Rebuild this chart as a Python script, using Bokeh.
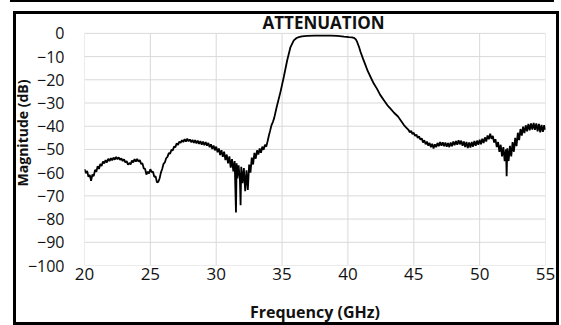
from bokeh.plotting import figure
from bokeh.models import Range1d, FixedTicker, Label
from bokeh.embed import file_html
from bokeh.resources import INLINE

# ---- data ----
# stopband below the filter (20-28 GHz)
freq_a = [20.0, 20.1, 20.2, 20.3, 20.4, 20.5, 20.6, 20.7, 20.8, 20.9,
          21.0, 21.1, 21.2, 21.3, 21.4, 21.5, 21.6, 21.7, 21.8, 21.9,
          22.0, 22.1, 22.2, 22.3, 22.4, 22.5, 22.6, 22.7, 22.8, 22.9,
          23.0, 23.1, 23.2, 23.3, 23.4, 23.5, 23.6, 23.7, 23.8, 23.9,
          24.0, 24.1, 24.2, 24.3, 24.4, 24.5, 24.6, 24.7, 24.8, 24.9,
          25.0, 25.1, 25.2, 25.3, 25.4, 25.5, 25.6, 25.7, 25.8, 25.9,
          26.0, 26.1, 26.2, 26.3, 26.4, 26.5, 26.6, 26.7, 26.8, 26.9,
          27.0, 27.1, 27.2, 27.3, 27.4, 27.5, 27.6, 27.7, 27.8, 27.9, 28.0]
mag_a = [-58.5, -60.2, -59.3, -61.8, -61.0, -63.5, -60.8, -61.5, -58.8, -59.6,
         -57.2, -58.4, -56.3, -57.1, -55.2, -56.0, -54.6, -55.6, -54.0, -55.0,
         -53.8, -54.7, -53.5, -54.4, -53.2, -54.2, -53.4, -54.5, -53.9, -55.0,
         -54.3, -55.6, -55.0, -56.6, -55.8, -56.5, -54.8, -55.6, -54.2, -55.2,
         -54.1, -55.3, -54.6, -56.2, -56.0, -58.2, -58.4, -60.8, -59.6, -60.4,
         -58.5, -59.8, -59.6, -61.8, -61.6, -64.2, -64.0, -62.5, -60.0, -58.4,
         -56.2, -55.6, -53.8, -53.2, -51.6, -51.8, -50.2, -50.4, -48.8, -49.0,
         -47.4, -48.0, -46.6, -47.2, -46.0, -46.8, -45.6, -46.6, -45.4, -46.5, -45.7]

# noisy stopband up to the lower filter edge (28-34.3 GHz)
freq_b = [28.1, 28.2, 28.3, 28.4, 28.5, 28.6, 28.7, 28.8, 28.9, 29.0,
          29.1, 29.2, 29.3, 29.4, 29.5, 29.6, 29.7, 29.8, 29.9, 30.0,
          30.1, 30.2, 30.3, 30.4, 30.5, 30.6, 30.7, 30.8, 30.9, 31.0,
          31.1, 31.2, 31.3, 31.4, 31.5, 31.55, 31.6, 31.7, 31.8, 31.85,
          31.9, 32.0, 32.1, 32.2, 32.3, 32.4, 32.5, 32.6, 32.7, 32.8,
          32.9, 33.0, 33.1, 33.2, 33.3, 33.4, 33.5, 33.6, 33.7, 33.8,
          33.9, 34.0, 34.1, 34.2, 34.3]
mag_b = [-46.9, -45.9, -47.2, -46.0, -47.4, -46.2, -47.6, -46.4, -47.9, -46.6,
         -48.2, -46.8, -48.4, -47.2, -49.0, -47.8, -49.8, -48.3, -50.4, -48.8,
         -51.2, -49.6, -52.4, -50.3, -53.2, -51.0, -54.6, -52.2, -56.0, -53.0,
         -57.8, -54.2, -59.5, -55.0, -77.2, -56.0, -62.5, -56.8, -63.5, -74.0,
         -57.5, -64.5, -58.0, -68.0, -59.0, -67.5, -56.5, -60.0, -53.5, -56.5,
         -51.5, -54.0, -50.4, -52.2, -49.6, -51.4, -48.8, -50.2, -48.0, -48.8,
         -46.5, -44.0, -41.8, -39.5, -38.2]

# passband and skirts (34.4-44.5 GHz)
freq_c = [34.4, 34.6, 34.88, 35.13, 35.39, 35.64, 35.89, 36.1, 36.27, 36.5,
          36.9, 37.5, 38.0, 38.7, 39.2, 39.7, 40.07, 40.3, 40.45, 40.6,
          40.7, 40.85, 40.96, 41.15, 41.34, 41.5, 41.72, 41.95, 42.2, 42.45,
          42.73, 43.0, 43.23, 43.5, 43.8, 44.0, 44.25, 44.5]
mag_c = [-36.5, -31.5, -25.2, -18.8, -11.6, -5.9, -3.0, -2.0, -1.6, -1.3,
         -1.1, -1.0, -1.0, -1.0, -1.1, -1.4, -1.6, -1.7, -1.9, -2.6,
         -3.7, -6.0, -8.0, -11.0, -13.8, -16.2, -18.8, -21.5, -23.8, -26.5,
         -28.8, -31.0, -32.4, -34.2, -35.8, -37.4, -39.5, -41.0]

# upper stopband (44.6-55 GHz)
freq_d = [44.6, 44.7, 44.8, 44.9, 45.0, 45.1, 45.2, 45.3, 45.4, 45.5,
          45.6, 45.7, 45.8, 45.9, 46.0, 46.1, 46.2, 46.3, 46.4, 46.5,
          46.6, 46.7, 46.8, 46.9, 47.0, 47.1, 47.2, 47.3, 47.4, 47.5,
          47.6, 47.7, 47.8, 47.9, 48.0, 48.1, 48.2, 48.3, 48.4, 48.5,
          48.6, 48.7, 48.8, 48.9, 49.0, 49.1, 49.2, 49.3, 49.4, 49.5,
          49.6, 49.7, 49.8, 49.9, 50.0, 50.1, 50.2, 50.3, 50.4, 50.5,
          50.6, 50.7, 50.8, 50.9, 51.0, 51.1, 51.2, 51.3, 51.4, 51.5,
          51.6, 51.7, 51.8, 51.9, 52.0, 52.05, 52.1, 52.2, 52.3, 52.4,
          52.5, 52.6, 52.7, 52.8, 52.9, 53.0, 53.1, 53.2, 53.3, 53.4,
          53.5, 53.6, 53.7, 53.8, 53.9, 54.0, 54.1, 54.2, 54.3, 54.4,
          54.5, 54.6, 54.7, 54.8, 54.9, 55.0]
mag_d = [-41.6, -42.6, -42.0, -43.4, -42.8, -44.2, -43.6, -45.0, -44.4, -45.8,
         -45.2, -47.0, -46.0, -47.8, -46.6, -48.4, -47.2, -49.0, -47.6, -49.6,
         -47.8, -49.0, -47.2, -48.6, -46.8, -48.4, -46.9, -48.6, -47.0, -48.8,
         -47.2, -49.0, -47.0, -48.6, -46.6, -48.2, -46.4, -48.0, -46.0, -47.8,
         -46.2, -48.4, -46.6, -49.0, -46.8, -49.4, -47.0, -49.2, -46.8, -48.8,
         -46.4, -48.4, -46.2, -48.0, -45.8, -47.8, -45.4, -47.2, -44.8, -46.6,
         -44.0, -45.6, -43.2, -45.4, -44.2, -47.0, -45.6, -49.0, -46.8, -51.0,
         -48.0, -53.0, -49.0, -55.0, -50.0, -61.5, -49.5, -55.0, -48.5, -53.0,
         -46.8, -51.0, -45.0, -48.6, -42.8, -46.0, -41.2, -44.0, -40.2, -43.0,
         -39.6, -42.2, -39.0, -41.8, -38.8, -41.4, -38.6, -41.6, -38.8, -42.2,
         -39.0, -42.6, -39.4, -42.4, -39.6, -41.6]

freq = freq_a + freq_b + freq_c + freq_d
mag = mag_a + mag_b + mag_c + mag_d

x_ticks = [20, 25, 30, 35, 40, 45, 50, 55]
y_ticks = [-100, -90, -80, -70, -60, -50, -40, -30, -20, -10, 0]
title_text = "ATTENUATION"
x_label = "Frequency (GHz)"
y_label = "Magnitude (dB)"

FONT = "Open Sans"
GRID = "#d9d9d9"

x_lo, x_hi = min(x_ticks), max(x_ticks)
y_lo, y_hi = min(y_ticks), max(y_ticks)

# the frame reaches the top of the page so the title above 0 dB is not clipped
p = figure(width=561, height=325, output_backend="svg", toolbar_location=None,
           x_range=Range1d(x_lo, x_hi), y_range=Range1d(y_lo, 14.16),
           min_border_left=84, min_border_right=16,
           min_border_top=0, min_border_bottom=59)

p.background_fill_color = None
p.border_fill_color = None
p.outline_line_color = None
p.grid.visible = False

# grid lines limited to the 0..-100 dB area
p.segment(x0=x_ticks, y0=[y_lo] * len(x_ticks), x1=x_ticks, y1=[y_hi] * len(x_ticks),
          line_color=GRID, line_width=1)
p.segment(x0=[x_lo] * len(y_ticks), y0=y_ticks, x1=[x_hi] * len(y_ticks), y1=y_ticks,
          line_color=GRID, line_width=1)

p.line(freq, mag, line_color="black", line_width=1.8)

p.xaxis.ticker = FixedTicker(ticks=x_ticks)
p.yaxis.ticker = FixedTicker(ticks=y_ticks)
p.yaxis.bounds = (y_lo, y_hi)

for ax in (p.xaxis[0], p.yaxis[0]):
    ax.axis_line_color = None
    ax.major_tick_line_color = None
    ax.minor_tick_line_color = None
    ax.major_tick_in = 0
    ax.major_tick_out = 0
    ax.minor_tick_in = 0
    ax.minor_tick_out = 0
    ax.major_label_text_font = FONT
    ax.major_label_text_color = "#111111"
    ax.axis_label_text_font = FONT
    ax.axis_label_text_font_style = "bold"
    ax.axis_label_text_color = "#111111"

p.xaxis.axis_label = x_label
p.xaxis.major_label_text_font_size = "17px"
p.xaxis.major_label_standoff = 2
p.xaxis.axis_label_text_font_size = "16px"
p.xaxis.axis_label_standoff = 18

p.yaxis.axis_label = y_label
p.yaxis.major_label_text_font_size = "16px"
p.yaxis.major_label_standoff = 20
p.yaxis.axis_label_standoff = -7
p.yaxis.axis_label_text_font_size = "14px"

title = Label(x=38.15, y=4.5, text=title_text, text_font=FONT,
              text_font_size="17px", text_font_style="bold",
              text_align="center", text_baseline="alphabetic",
              text_color="#111111")
p.add_layout(title)

# outer 3px box and the thin rule above it, painted as page background
K = "linear-gradient(#000,#000)"
p.styles = {
    "background": ", ".join([
        f"{K} 10px 0px / 544px 2px no-repeat",
        f"{K} 13px 11px / 546px 3px no-repeat",
        f"{K} 13px 322px / 546px 3px no-repeat",
        f"{K} 13px 11px / 3px 314px no-repeat",
        f"{K} 556px 11px / 3px 314px no-repeat",
        "#ffffff",
    ])
}

open("out.html", "w").write(file_html(p, INLINE))
